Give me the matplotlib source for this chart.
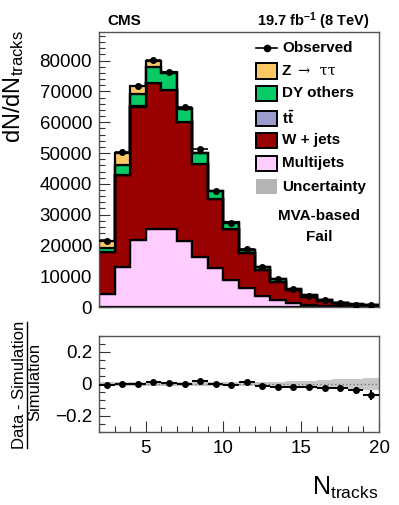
import numpy as np
import matplotlib
matplotlib.use("Agg")
import matplotlib.pyplot as plt
from matplotlib.patches import Rectangle
from matplotlib.lines import Line2D
from matplotlib.ticker import MultipleLocator

plt.rcParams['font.family'] = ['Liberation Sans', 'DejaVu Sans']
plt.rcParams['mathtext.fontset'] = 'custom'
plt.rcParams['mathtext.rm'] = 'Liberation Sans'
plt.rcParams['mathtext.bf'] = 'Liberation Sans:bold'
plt.rcParams['mathtext.it'] = 'Liberation Sans:italic'

# ---------------- data ----------------
bin_edges = np.arange(2, 21, 1)
multijets = [4300, 13100, 21800, 25300, 25200, 21500, 16100, 12600, 8800, 6100,
             3600, 2300, 1300, 750, 450, 250, 140, 80]
wjets = [13500, 29700, 43200, 47300, 45200, 38500, 30200, 22500, 16500, 11300,
         8400, 5800, 4100, 2650, 1650, 1050, 600, 400]
ttbar = [50, 100, 150, 150, 150, 150, 100, 100, 80, 60, 50, 40, 30, 20, 20, 10, 10, 10]
dy_others = [1250, 3100, 4050, 5250, 5350, 4250, 3500, 2400, 2020, 1040,
             850, 860, 470, 330, 210, 110, 70, 30]
ztautau = [2400, 4100, 2500, 2000, 500, 200, 150, 100, 80, 100, 50, 40, 30, 20, 10, 10, 10, 10]
observed = [21300, 50200, 71800, 80100, 76400, 64800, 51200, 37700, 27300, 18800,
            12900, 9000, 5900, 3700, 2300, 1400, 800, 500]
ratio = [-0.009, 0.002, 0.0, 0.010, 0.006, 0.003, 0.020, -0.002, -0.009, 0.012,
         -0.010, -0.017, -0.020, -0.019, -0.025, -0.025, -0.040, -0.069]
ratio_err = [0.004, 0.003, 0.003, 0.003, 0.003, 0.003, 0.003, 0.004, 0.004, 0.005,
             0.006, 0.008, 0.009, 0.011, 0.013, 0.016, 0.024, 0.030]
band_halfwidth = [0.012, 0.010, 0.010, 0.010, 0.010, 0.010, 0.010, 0.011, 0.012, 0.012,
                  0.013, 0.015, 0.018, 0.021, 0.025, 0.029, 0.033, 0.037]

labels = ['Observed', 'Z', 'DY others', r'$\mathbf{t\bar{t}}$', 'W + jets', 'Multijets', 'Uncertainty']

# ---------------- style ----------------
c_z = '#FDC864'
c_dy = '#08CB66'
c_tt = '#9C9CCC'
c_w = '#990000'
c_mj = '#FFCCFF'
c_unc = '#B5B5B5'
spine_c = '#555555'

W, H = 399, 505
fig = plt.figure(figsize=(W / 100, H / 100), dpi=100)

def ax_rect(l, t, r, b):
    return [l / W, 1 - b / H, (r - l) / W, (b - t) / H]

ax = fig.add_axes(ax_rect(99, 32, 379, 307))
ax2 = fig.add_axes(ax_rect(99, 336, 379, 432))

edges = bin_edges
x_c = 0.5 * (edges[:-1] + edges[1:])

comps = [(multijets, c_mj), (wjets, c_w), (ttbar, c_tt), (dy_others, c_dy), (ztautau, c_z)]
base = np.zeros(len(x_c))
for vals, col in comps:
    v = np.asarray(vals, float)
    ax.stairs(base + v, edges, baseline=base, fill=True, facecolor=col,
              edgecolor='black', linewidth=1.6, zorder=2)
    base = base + v

ax.errorbar(x_c, observed, xerr=0.5, yerr=np.sqrt(observed), fmt='o', color='black',
            markersize=4, elinewidth=1.2, capsize=0, zorder=5)

ax.set_xlim(2, 20)
ax.set_ylim(0, 89300)
for a in (ax, ax2):
    for s in a.spines.values():
        s.set_color(spine_c)
        s.set_linewidth(1.0)
    a.tick_params(which='both', direction='in', top=False, right=False, color='#333333')
    a.tick_params(which='major', length=8, width=0.8, labelsize=13.5)
    a.tick_params(which='minor', length=4, width=0.8)
    a.xaxis.set_major_locator(MultipleLocator(5))
    a.xaxis.set_minor_locator(MultipleLocator(1))

ax.yaxis.set_major_locator(MultipleLocator(10000))
ax.yaxis.set_minor_locator(MultipleLocator(2000))
ax.tick_params(axis='x', which='both', labelbottom=False)
ax.tick_params(axis='x', which='major', length=6)
ax.tick_params(axis='x', which='minor', length=3)
ax.tick_params(axis='y', pad=5)

# ratio panel
bw = np.asarray(band_halfwidth)
ax2.stairs(bw, edges, baseline=-bw, fill=True, facecolor='#C8C8C8', edgecolor='none', zorder=1)
ax2.axhline(0, color='#777777', linestyle=':', linewidth=1, zorder=2)
ax2.errorbar(x_c, ratio, xerr=0.5, yerr=ratio_err, fmt='o', color='black',
             markersize=4, elinewidth=1.4, capsize=0, zorder=5)
ax2.set_xlim(2, 20)
ax2.set_ylim(-0.3, 0.3)
ax2.yaxis.set_major_locator(MultipleLocator(0.2))
ax2.yaxis.set_minor_locator(MultipleLocator(0.05))
ax2.set_yticks([-0.2, 0, 0.2])
ax2.set_yticklabels(['\u22120.2', '0', '0.2'])
ax2.tick_params(axis='x', pad=6)
ax2.tick_params(axis='y', pad=5)

# legend (manual)
def fy(py):
    return (307 - py) / 275.0
def fx(px):
    return (px - 99) / 280.0

bx0, bx1 = fx(256), fx(277)
bh = 15 / 275.0
tx = fx(282)
ys = [47.7, 71, 93.3, 118.3, 140, 163.3, 186.7]
fs_leg = 11
# observed
ax.add_line(Line2D([bx0, bx1], [fy(ys[0])] * 2, transform=ax.transAxes, color='black', lw=1.2))
ax.add_line(Line2D([(bx0 + bx1) / 2], [fy(ys[0])], transform=ax.transAxes, color='black',
                   marker='o', markersize=4.5))
ax.text(tx, fy(ys[0]), labels[0], transform=ax.transAxes, fontsize=fs_leg, fontweight='bold', va='center')
box_cols = [c_z, c_dy, c_tt, c_w, c_mj, c_unc]
for i, col in enumerate(box_cols):
    yc = fy(ys[i + 1])
    ec = 'black' if col != c_unc else 'none'
    ax.add_patch(Rectangle((bx0, yc - bh / 2), bx1 - bx0, bh, transform=ax.transAxes,
                           facecolor=col, edgecolor=ec, linewidth=1.4, zorder=6))
    ax.text(tx, yc, labels[i + 1], transform=ax.transAxes, fontsize=fs_leg,
            fontweight='bold', va='center', zorder=7)
ax.text(fx(298), fy(ys[1]), '\u2192  \u03c4\u03c4', transform=ax.transAxes, fontsize=10.5,
        family='DejaVu Serif', va='center', zorder=7)

ax.text(fx(319), fy(216), 'MVA-based', transform=ax.transAxes, fontsize=fs_leg,
        fontweight='bold', ha='center', va='center')
ax.text(fx(319), fy(236.7), 'Fail', transform=ax.transAxes, fontsize=fs_leg,
        fontweight='bold', ha='center', va='center')

# header
fig.text(107 / W, 1 - 21 / H, 'CMS', fontsize=11, fontweight='bold', ha='left', va='center')
fig.text(370 / W, 1 - 21 / H, r'19.7 fb$^{\mathbf{-1}}$ (8 TeV)', fontsize=10.5,
         fontweight='bold', ha='right', va='center')

# axis titles
fig.text(14 / W, 1 - 30 / H, r'dN/dN$_{\mathrm{tracks}}$', fontsize=17, rotation=90,
         ha='center', va='top')
fig.text(378 / W, 1 - 501 / H, r'N$_{\mathrm{tracks}}$', fontsize=18, ha='right', va='bottom')

# ratio title (fraction)
fig.text(27.5 / W, 1 - 385 / H, 'Data - Simulation', fontsize=12, rotation=90,
         ha='right', va='center')
fig.text(27.5 / W, 1 - 382 / H, 'Simulation', fontsize=12, rotation=90,
         ha='left', va='center')
fig.add_artist(Line2D([26.5 / W, 26.5 / W], [1 - 448 / H, 1 - 322 / H], color='black', lw=1.0))

fig.savefig('out.png', dpi=100)
